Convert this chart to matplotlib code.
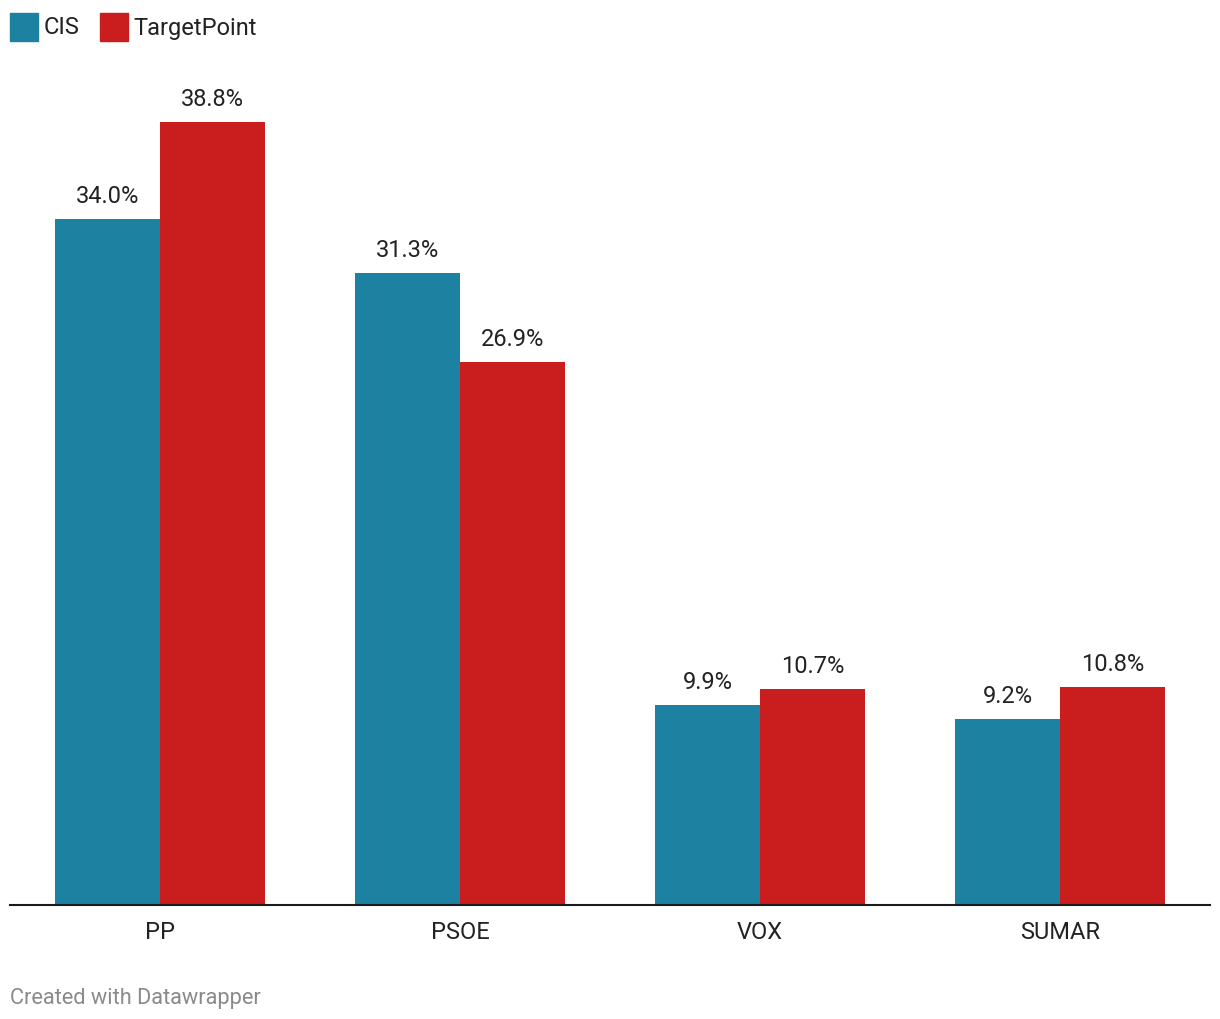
import matplotlib
matplotlib.use("Agg")
import matplotlib.pyplot as plt
import numpy as np
from matplotlib.patches import Rectangle

categories = ["PP", "PSOE", "VOX", "SUMAR"]
series_names = ["CIS", "TargetPoint"]
cis = [34.0, 31.3, 9.9, 9.2]
targetpoint = [38.8, 26.9, 10.7, 10.8]
colors = ["#1d82a1", "#c91d1e"]

plt.rcParams['font.family'] = ['Roboto', 'DejaVu Sans']

W, H = 1220, 1020
base = 906
fig = plt.figure(figsize=(W / 100, H / 100), dpi=100)
ax = fig.add_axes([10 / W, (H - base) / H, 1200 / W, (base - 60) / H])

x = np.arange(len(categories))
bw = 0.35
for i, (vals, c) in enumerate(zip([cis, targetpoint], colors)):
    pos = x + (i - 0.5) * bw
    ax.bar(pos, vals, width=bw, color=c, align="center", linewidth=0)
    for p, v in zip(pos, vals):
        ax.annotate(f"{v:.1f}%", (p, v), xytext=(0, 12), textcoords="offset pixels",
                    ha="center", va="bottom", fontsize=17, color="#222222")

ax.set_xlim(-0.5, len(categories) - 0.5)
ax.set_ylim(0, (base - 60) / 20.18)
for s in ["top", "right", "left"]:
    ax.spines[s].set_visible(False)
ax.spines["bottom"].set_linewidth(1.5)
ax.spines["bottom"].set_color("#1a1a1a")
ax.set_yticks([])
ax.set_xticks(x)
ax.set_xticklabels(categories, fontsize=17, color="#222222")
ax.tick_params(axis="x", length=0, pad=11)

# legend
lx = 10
for name, c in zip(series_names, colors):
    fig.patches.append(Rectangle((lx / W, (H - 42) / H), 28 / W, 28 / H,
                                 transform=fig.transFigure, color=c))
    t = fig.text((lx + 34) / W, (H - 28) / H, name, fontsize=17, color="#222222",
                 ha="left", va="center")
    fig.canvas.draw()
    bb = t.get_window_extent()
    lx = bb.x1 + 20

fig.text(10 / W, (H - 999) / H, "Created with Datawrapper", fontsize=15.7,
         color="#8a8a8a", ha="left", va="center")

fig.savefig("out.png", dpi=100)
